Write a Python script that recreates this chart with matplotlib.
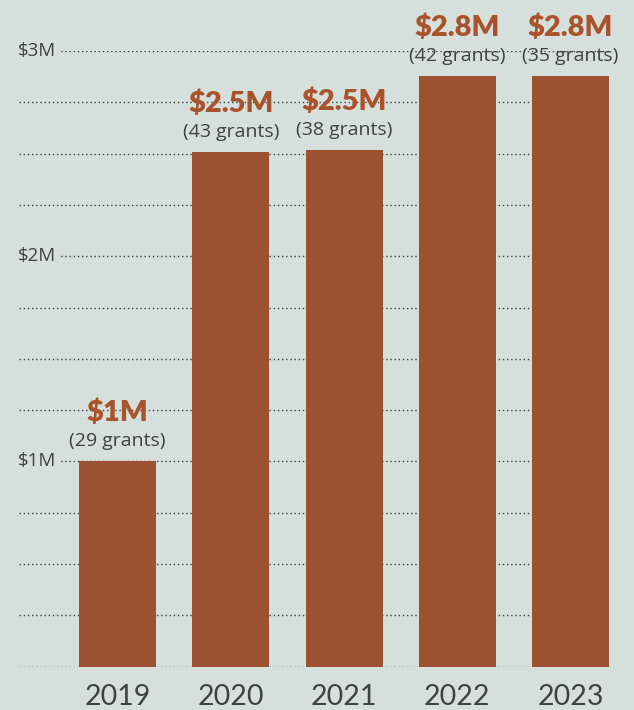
import matplotlib
matplotlib.use("Agg")
import matplotlib.pyplot as plt
import matplotlib.transforms as mtransforms

years = ["2019", "2020", "2021", "2022", "2023"]
amounts = [1.0, 2.51, 2.52, 2.88, 2.88]          # $ millions
value_labels = ["$1M", "$2.5M", "$2.5M", "$2.8M", "$2.8M"]
grant_counts = [29, 43, 38, 42, 35]
ytick_vals = [1, 2, 3]
ytick_labels = ["$1M", "$2M", "$3M"]

BG = "#d5e0dc"
BAR = "#9c5230"
LBL = "#a9532d"
TXT = "#3f4142"

W, H = 634, 710
fig = plt.figure(figsize=(W / 100, H / 100), dpi=100, facecolor=BG)
left, right = 19 / W, 609 / W
bottom, top = (H - 666.7) / H, (H - 51) / H
ax = fig.add_axes([left, bottom, right - left, top - bottom], facecolor=BG)

x = list(range(len(years)))
ax.set_xlim(-0.87, 4.34)
ax.set_ylim(0, 3)

# dotted gridlines every $0.25M
grid_vals = [i * 0.25 for i in range(13)]
for g in grid_vals:
    ax.axhline(g, color="#3f3f3f", lw=1.0, ls=(0, (1, 2.0)), zorder=1)

ax.bar(x, amounts, width=0.68, color=BAR, zorder=2)

for s in ax.spines.values():
    s.set_visible(False)
ax.set_xticks([])
ax.set_yticks([])

ytrans = mtransforms.blended_transform_factory(fig.transFigure, ax.transData)
for v, t in zip(ytick_vals, ytick_labels):
    ax.text(56 / W, v, t, transform=ytrans,
            ha="right", va="center", fontsize=13.5, color=TXT, family="Open Sans",
            bbox=dict(facecolor=BG, edgecolor="none", pad=3.5), zorder=3)

for xi, a, vl, n in zip(x, amounts, value_labels, grant_counts):
    t1 = mtransforms.offset_copy(ax.transData, fig=fig, x=0, y=15, units="dots")
    ax.text(xi, a, f"({n} grants)", transform=t1, ha="center", va="baseline",
            fontsize=14, color=TXT, family="Open Sans", zorder=4)
    t2 = mtransforms.offset_copy(ax.transData, fig=fig, x=0, y=40, units="dots")
    ax.text(xi, a, vl, transform=t2, ha="center", va="baseline",
            fontsize=21, fontweight="heavy", color=LBL, family="Lato", zorder=4)
    t3 = mtransforms.offset_copy(ax.transData, fig=fig, x=0, y=-38, units="dots")
    ax.text(xi, 0, years[xi], transform=t3, ha="center", va="baseline",
            fontsize=20.5, color=TXT, family="Lato")

fig.savefig("out.png", dpi=100, facecolor=BG)
